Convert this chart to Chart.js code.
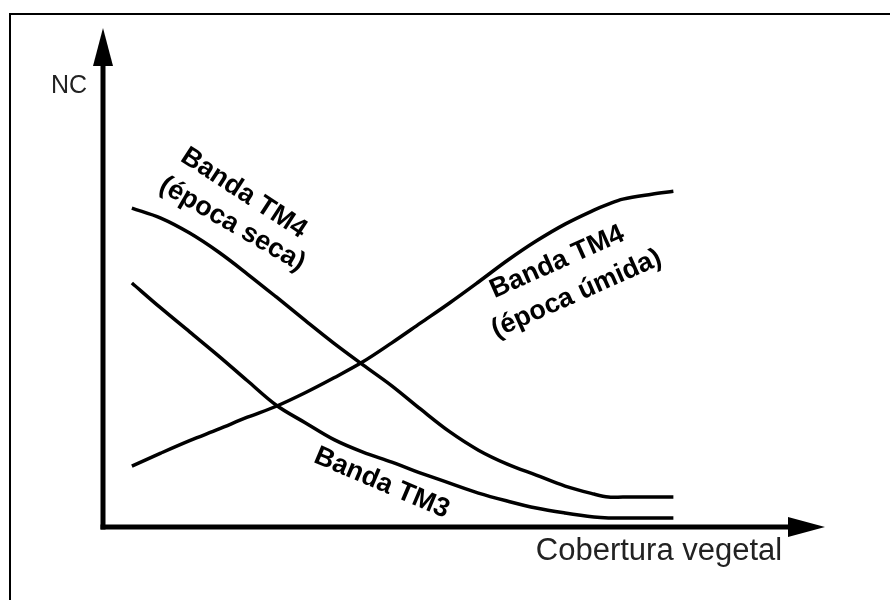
<!DOCTYPE html>
<html>
<head>
<meta charset="utf-8">
<script src="https://cdn.jsdelivr.net/npm/chart.js@4/dist/chart.umd.min.js"></script>
<style>
  html, body { margin: 0; padding: 0; background: #fff; }
  #wrap { width: 890px; height: 600px; position: relative; }
</style>
</head>
<body>
<div id="wrap"><canvas id="chart" width="890" height="600"></canvas></div>
<script>
// cobertura vegetal (x) shared by all three curves
const cover = [4, 8, 12, 16, 20, 24, 28, 32, 36, 40, 44, 48, 52, 56, 60, 64, 68, 70, 72, 76, 79];

// NC values
const tm4Seca = [63.9, 61.9, 58.9, 55.1, 50.7, 46.1, 41.4, 36.8, 32.5, 28.3, 23.6, 19.1, 15.4, 12.6, 10.4, 8.2, 6.6, 6.0, 6.0, 6.0, 6.0];
const tm3 = [48.9, 43.9, 39.1, 34.3, 29.3, 24.4, 20.9, 17.5, 15.0, 13.0, 10.8, 8.8, 6.8, 5.2, 3.8, 2.8, 2.0, 1.8, 1.8, 1.8, 1.8];
const tm4Umida = [12.2, 14.8, 17.3, 19.6, 22.0, 24.2, 26.9, 29.9, 33.1, 36.9, 40.9, 44.9, 49.1, 53.4, 57.3, 60.7, 63.5, 64.7, 65.7, 66.7, 67.3];

const axisTitles = { x: "Cobertura vegetal", y: "NC" };

// curve labels: text lines, anchor in data units, rotation in degrees
const curveLabels = [
  { text: "Banda TM4", x: 19.5, y: 66.9, rot: 33 },
  { text: "(época seca)", x: 17.9, y: 60.7, rot: 30 },
  { text: "Banda TM4", x: 62.9, y: 53.1, rot: -24 },
  { text: "(época úmida)", x: 65.6, y: 46.7, rot: -24 },
  { text: "Banda TM3", x: 38.6, y: 8.8, rot: 23 },
];

const toPoints = (ys) => ys.map((y, i) => ({ x: cover[i], y: y }));

const lineStyle = {
  borderColor: "#000",
  borderWidth: 3.5,
  pointRadius: 0,
  fill: false,
  tension: 0.35,
};

const drawingPlugin = {
  id: "drawing",
  beforeDraw(chart) {
    const ctx = chart.ctx;
    ctx.save();
    ctx.fillStyle = "#fff";
    ctx.fillRect(0, 0, chart.width, chart.height);
    // frame (top and left edges)
    ctx.strokeStyle = "#000";
    ctx.lineWidth = 2;
    ctx.beginPath();
    ctx.moveTo(10, chart.height);
    ctx.lineTo(10, 14);
    ctx.lineTo(chart.width, 14);
    ctx.stroke();
    ctx.restore();
  },
  afterDatasetsDraw(chart) {
    const ctx = chart.ctx;
    const a = chart.chartArea;
    ctx.save();
    ctx.strokeStyle = "#000";
    ctx.fillStyle = "#000";
    ctx.lineWidth = 5;
    ctx.lineCap = "butt";
    // y axis
    ctx.beginPath();
    ctx.moveTo(a.left, a.bottom + 2.5);
    ctx.lineTo(a.left, a.top + 30);
    ctx.stroke();
    ctx.beginPath();
    ctx.moveTo(a.left, a.top);
    ctx.lineTo(a.left - 10, a.top + 38);
    ctx.lineTo(a.left + 10, a.top + 38);
    ctx.closePath();
    ctx.fill();
    // x axis
    ctx.beginPath();
    ctx.moveTo(a.left - 2.5, a.bottom);
    ctx.lineTo(a.right - 30, a.bottom);
    ctx.stroke();
    ctx.beginPath();
    ctx.moveTo(a.right, a.bottom);
    ctx.lineTo(a.right - 37, a.bottom - 10);
    ctx.lineTo(a.right - 37, a.bottom + 10);
    ctx.closePath();
    ctx.fill();

    // axis titles
    ctx.fillStyle = "#222";
    ctx.font = "25px 'Liberation Sans', Arial, sans-serif";
    ctx.textAlign = "center";
    ctx.textBaseline = "middle";
    ctx.fillText(axisTitles.y, a.left - 34, a.top + 58);
    ctx.font = "31px 'Liberation Sans', Arial, sans-serif";
    ctx.textBaseline = "alphabetic";
    ctx.fillText(axisTitles.x, a.right - 166, a.bottom + 33);

    // curve labels
    const xs = chart.scales.x;
    const ys = chart.scales.y;
    ctx.fillStyle = "#000";
    ctx.font = "bold 27px 'Liberation Sans', Arial, sans-serif";
    ctx.textBaseline = "middle";
    curveLabels.forEach((l) => {
      ctx.save();
      ctx.translate(xs.getPixelForValue(l.x), ys.getPixelForValue(l.y));
      ctx.rotate((l.rot * Math.PI) / 180);
      ctx.fillText(l.text, 0, 0);
      ctx.restore();
    });
    ctx.restore();
  },
};

new Chart(document.getElementById("chart"), {
  type: "line",
  data: {
    datasets: [
      { label: "Banda TM4 (época seca)", data: toPoints(tm4Seca), ...lineStyle },
      { label: "Banda TM3", data: toPoints(tm3), ...lineStyle },
      { label: "Banda TM4 (época úmida)", data: toPoints(tm4Umida), ...lineStyle },
    ],
  },
  options: {
    responsive: false,
    animation: false,
    layout: { padding: { left: 103, top: 28, right: 65, bottom: 73 } },
    plugins: { legend: { display: false }, tooltip: { enabled: false } },
    scales: {
      x: { type: "linear", min: 0, max: 100, display: false },
      y: { type: "linear", min: 0, max: 100, display: false },
    },
  },
  plugins: [drawingPlugin],
});
</script>
</body>
</html>
